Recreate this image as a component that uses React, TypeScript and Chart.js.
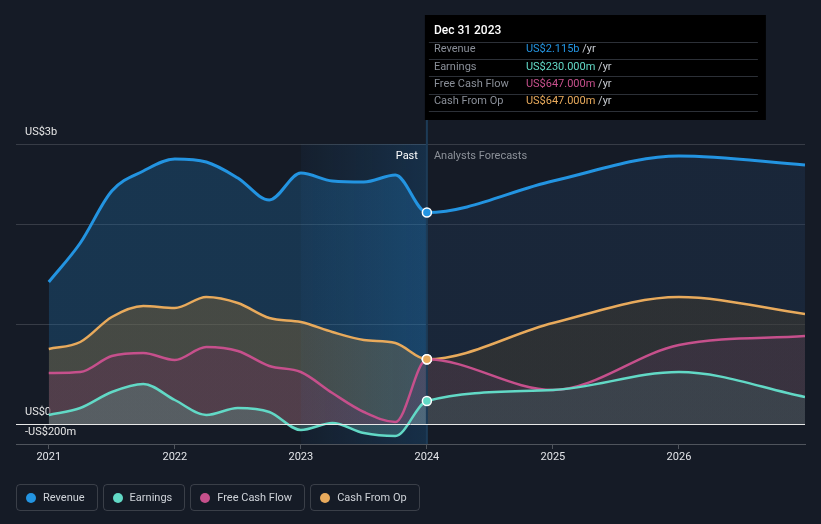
import React, { useEffect, useRef } from 'react';
import { Chart, registerables } from 'chart.js';

Chart.register(...registerables);
Chart.defaults.font.family = 'Roboto';

// ---- data (values in US$ billions) ----
const xValues = [2021, 2021.25, 2021.5, 2021.75, 2022, 2022.25, 2022.5, 2022.75, 2023, 2023.25, 2023.5, 2023.75, 2024, 2025, 2026, 2027];
const revenue = [1.42, 1.81, 2.33, 2.53, 2.65, 2.62, 2.46, 2.24, 2.51, 2.43, 2.42, 2.49, 2.115, 2.43, 2.68, 2.59];
const earnings = [0.09, 0.16, 0.32, 0.40, 0.24, 0.09, 0.16, 0.12, -0.06, 0.01, -0.09, -0.12, 0.23, 0.34, 0.52, 0.27];
const freeCashFlow = [0.51, 0.52, 0.68, 0.71, 0.64, 0.77, 0.73, 0.58, 0.52, 0.31, 0.12, 0.02, 0.647, 0.34, 0.79, 0.88];
const cashFromOp = [0.75, 0.82, 1.07, 1.18, 1.16, 1.27, 1.21, 1.06, 1.02, 0.92, 0.84, 0.81, 0.647, 1.01, 1.27, 1.10];

const xTickYears = [2021, 2022, 2023, 2024, 2025, 2026];
const xMin = 2020.74;
const xMax = 2027;
const yMin = -0.2;
const yMax = 2.8;
const yGridValues = [-0.2, 0, 1, 2, 2.8];
const yLabelValues = [-0.2, 0, 2.8];
const yLabelTexts = ['-US$200m', 'US$0', 'US$3b'];
const pastStartX = 2023;
const nowX = 2024;
const tooltipDate = 'Dec 31 2023';
const pastLabel = 'Past';
const forecastLabel = 'Analysts Forecasts';

const seriesNames = ['Revenue', 'Earnings', 'Free Cash Flow', 'Cash From Op'];
const seriesValues = [revenue, earnings, freeCashFlow, cashFromOp];
const seriesColors = ['#2394e1', '#62d9c6', '#c6508c', '#e8aa5c'];
const fillPast = ['rgba(32,104,158,0.35)', 'rgba(99,154,144,0.35)', 'rgba(102,43,88,0.35)', 'rgba(156,111,46,0.35)'];
const fillFuture = ['rgba(35,61,95,0.35)', 'rgba(64,97,98,0.35)', 'rgba(80,55,86,0.35)', 'rgba(83,68,41,0.35)'];
// draw order: index 0 is on top
const drawOrder = [1, 2, 3, 0];

const fmtMoney = (v: number) => (Math.abs(v) >= 1 ? `US$${v.toFixed(3)}b` : `US$${(v * 1000).toFixed(3)}m`);

const makeFill = (past: string, future: string) => (ctx: any) => {
  const chart = ctx.chart;
  const area = chart.chartArea;
  const xs = chart.scales && chart.scales.x;
  if (!area || !xs) return past;
  const px = xs.getPixelForValue(nowX);
  const t = Math.min(Math.max((px - area.left) / (area.right - area.left), 0), 1);
  const g = chart.ctx.createLinearGradient(area.left, 0, area.right, 0);
  g.addColorStop(0, past);
  g.addColorStop(t, past);
  g.addColorStop(t, future);
  g.addColorStop(1, future);
  return g;
};

const overlayPlugin = {
  id: 'overlay',
  beforeDatasetsDraw(chart: any) {
    const { ctx, chartArea: a, scales } = chart;
    const x0 = scales.x.getPixelForValue(pastStartX);
    const x1 = scales.x.getPixelForValue(nowX);
    ctx.save();
    const g = ctx.createLinearGradient(x0, 0, x1, 0);
    g.addColorStop(0, 'rgba(33,150,243,0.04)');
    g.addColorStop(1, 'rgba(33,150,243,0.17)');
    ctx.fillStyle = g;
    ctx.fillRect(x0, a.top, x1 - x0, a.bottom - a.top);
    ctx.strokeStyle = '#1d3b57';
    ctx.lineWidth = 2;
    ctx.beginPath();
    ctx.moveTo(x1, 15);
    ctx.lineTo(x1, a.bottom);
    ctx.stroke();
    ctx.restore();
  },
  afterDatasetsDraw(chart: any) {
    const { ctx, chartArea: a, scales } = chart;
    const y0 = Math.round(scales.y.getPixelForValue(0)) + 0.5;
    ctx.save();
    ctx.strokeStyle = '#e8e8e8';
    ctx.lineWidth = 1;
    ctx.beginPath();
    ctx.moveTo(a.left, y0);
    ctx.lineTo(a.right, y0);
    ctx.stroke();
    ctx.restore();
    // bring Cash From Op marker on top
    const idx = xValues.indexOf(nowX);
    const cfoDs = drawOrder.indexOf(3);
    const meta = chart.getDatasetMeta(cfoDs);
    if (meta && meta.data[idx]) meta.data[idx].draw(ctx, a);
    const px = scales.x.getPixelForValue(nowX);
    ctx.save();
    ctx.font = '11px Roboto';
    ctx.textBaseline = 'middle';
    ctx.textAlign = 'right';
    ctx.fillStyle = '#ffffff';
    ctx.fillText(pastLabel, px - 9, a.top + 12);
    ctx.textAlign = 'left';
    ctx.fillStyle = '#8c9199';
    ctx.fillText(forecastLabel, px + 7, a.top + 12);
    ctx.restore();
  },
  afterDraw(chart: any) {
    const { ctx, scales } = chart;
    const px = scales.x.getPixelForValue(nowX);
    const left = px - 2;
    const top = 15;
    const w = 341;
    const h = 105;
    const idx = xValues.indexOf(nowX);
    ctx.save();
    ctx.fillStyle = '#000000';
    ctx.fillRect(left, top, w, h);
    ctx.textBaseline = 'middle';
    ctx.textAlign = 'left';
    ctx.font = '500 12px Roboto';
    ctx.fillStyle = '#ffffff';
    ctx.fillText(tooltipDate, left + 9, top + 16);
    ctx.strokeStyle = '#2c3037';
    ctx.lineWidth = 1;
    for (let i = 0; i <= seriesNames.length; i++) {
      const sy = Math.round(top + 26.5 + 17.4 * i) + 0.5;
      ctx.beginPath();
      ctx.moveTo(left + 4, sy);
      ctx.lineTo(left + 333, sy);
      ctx.stroke();
    }
    ctx.font = '11px Roboto';
    seriesNames.forEach((name, i) => {
      const ty = top + 34.5 + 17.4 * i;
      ctx.fillStyle = '#8a8f98';
      ctx.fillText(name, left + 9, ty);
      const val = fmtMoney(seriesValues[i][idx]);
      ctx.fillStyle = seriesColors[i];
      ctx.fillText(val, left + 101, ty);
      const vw = ctx.measureText(val + ' ').width;
      ctx.fillStyle = '#c9cdd3';
      ctx.fillText('/yr', left + 101 + vw, ty);
    });
    ctx.restore();
  },
};

export default function App() {
  const canvasRef = useRef<HTMLCanvasElement | null>(null);

  useEffect(() => {
    const canvas = canvasRef.current;
    if (!canvas) return;
    const datasets = drawOrder.map((si) => ({
      label: seriesNames[si],
      data: xValues.map((x, i) => ({ x, y: seriesValues[si][i] })),
      borderColor: seriesColors[si],
      borderWidth: si === 0 ? 3 : 2.5,
      backgroundColor: makeFill(fillPast[si], fillFuture[si]),
      fill: 'origin',
      cubicInterpolationMode: 'monotone' as const,
      pointRadius: (c: any) => (c.raw && c.raw.x === nowX ? 4.5 : 0),
      pointHoverRadius: 0,
      pointBackgroundColor: seriesColors[si],
      pointBorderColor: '#ffffff',
      pointBorderWidth: 1.5,
    }));
    const chart = new Chart(canvas, {
      type: 'line',
      data: { datasets },
      options: {
        animation: false,
        responsive: false,
        devicePixelRatio: 1,
        events: [],
        layout: { padding: { top: 144, left: 16, right: 16, bottom: 57.8 } },
        plugins: {
          legend: { display: false },
          tooltip: { enabled: false },
          filler: { drawTime: 'beforeDatasetsDraw' },
        },
        scales: {
          x: {
            type: 'linear',
            min: xMin,
            max: xMax,
            afterBuildTicks: (s: any) => {
              s.ticks = xTickYears.map((v) => ({ value: v }));
            },
            ticks: {
              color: '#e2e4e8',
              font: { size: 11 },
              padding: 2,
              autoSkip: false,
              maxRotation: 0,
              callback: (v: any) => String(v),
            },
            grid: { drawOnChartArea: false, drawTicks: true, tickLength: 5, color: 'rgba(255,255,255,0.25)' },
            border: { display: true, color: 'rgba(255,255,255,0.25)' },
          },
          y: {
            type: 'linear',
            min: yMin,
            max: yMax,
            afterBuildTicks: (s: any) => {
              s.ticks = yGridValues.map((v) => ({ value: v }));
            },
            afterFit: (s: any) => {
              s.width = 0;
            },
            ticks: {
              mirror: true,
              padding: 9,
              labelOffset: -12,
              color: '#e6e6e6',
              font: { size: 11 },
              autoSkip: false,
              callback: (v: any) => {
                const i = yLabelValues.indexOf(v);
                return i >= 0 ? yLabelTexts[i] : '';
              },
            },
            grid: {
              drawTicks: false,
              color: (c: any) =>
                c.tick && (c.tick.value === 0 || c.tick.value === yMin) ? 'rgba(0,0,0,0)' : 'rgba(255,255,255,0.15)',
            },
            border: { display: false },
          },
        },
      } as any,
      plugins: [overlayPlugin],
    });
    return () => chart.destroy();
  }, []);

  return (
    <div style={{ position: 'relative', width: 821, height: 524, background: '#151b26', overflow: 'hidden' }}>
      <style>{'body{margin:0;background:#151b26;}'}</style>
      <canvas ref={canvasRef} width={821} height={524} style={{ display: 'block', width: 821, height: 524 }} />
      <div style={{ position: 'absolute', left: 16, top: 484, display: 'flex', gap: 5 }}>
        {seriesNames.map((n, i) => (
          <div
            key={n}
            style={{
              height: 27,
              boxSizing: 'border-box',
              border: '1px solid rgba(255,255,255,0.16)',
              borderRadius: 4,
              display: 'flex',
              alignItems: 'center',
              padding: '0 12px 0 9px',
            }}
          >
            <span
              style={{ width: 10, height: 10, borderRadius: '50%', background: seriesColors[i], marginRight: 7, display: 'inline-block' }}
            />
            <span style={{ color: '#cfd3d9', font: '11px Roboto', whiteSpace: 'nowrap' }}>{n}</span>
          </div>
        ))}
      </div>
    </div>
  );
}
